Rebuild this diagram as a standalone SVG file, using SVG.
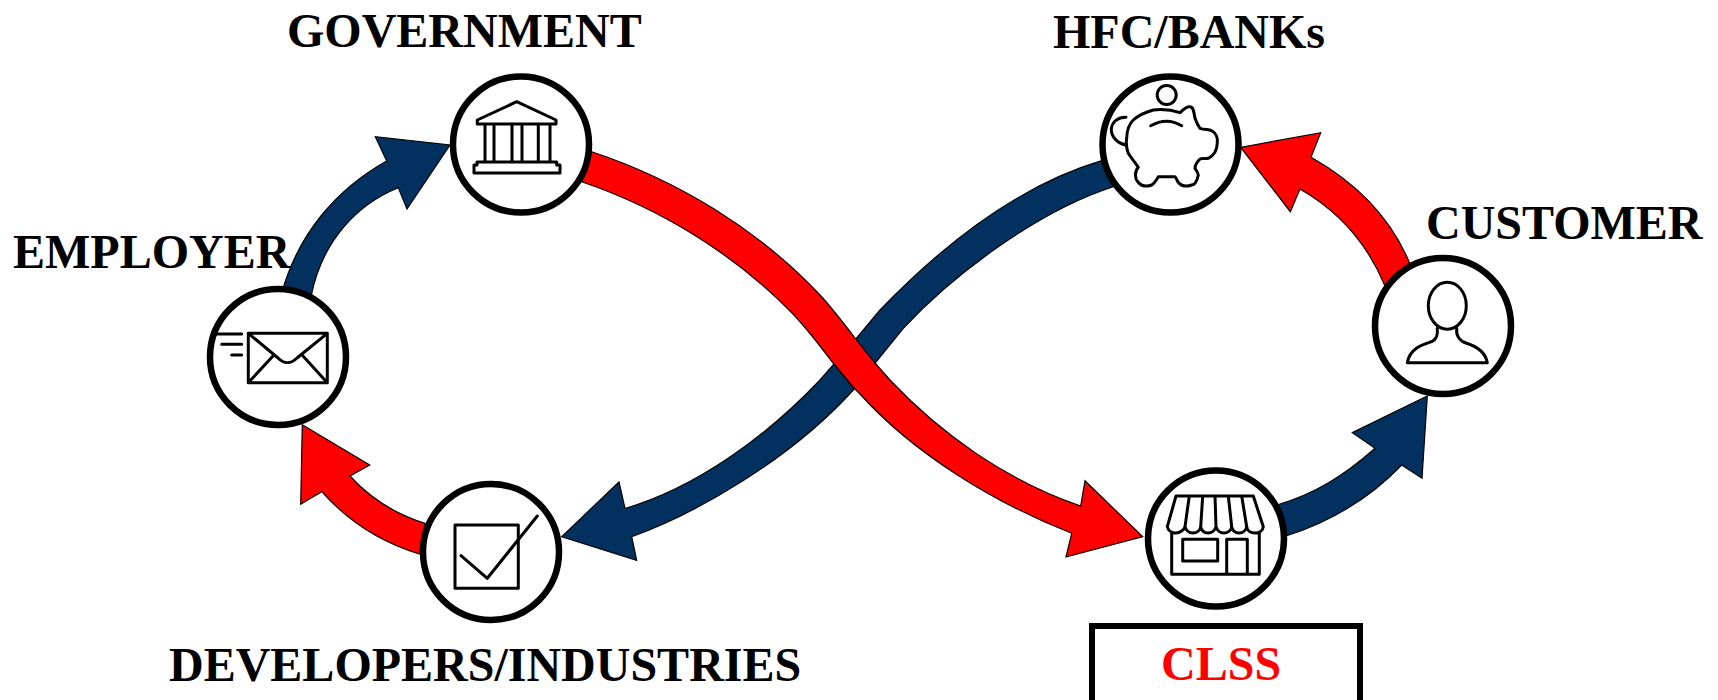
<svg xmlns="http://www.w3.org/2000/svg" width="1718" height="700" viewBox="0 0 1718 700">
<style>
.lbl{font-family:"Liberation Serif","Times New Roman",serif;font-weight:700;font-size:48px;fill:#000}
.ring{fill:#fff;stroke:#000;stroke-width:6.5}
.ico{fill:none;stroke:#000;stroke-width:3;stroke-linejoin:round;stroke-linecap:round}
.blue{fill:#03315f;stroke:#000;stroke-width:1.2;stroke-linejoin:miter}
.red{fill:#f00;stroke:#000;stroke-width:1.2;stroke-linejoin:miter}
</style>
<rect width="1718" height="700" fill="#fff"/>
<g id="connectors">
<path class="blue" d="M1101.7 160.7C1030 182 955 232 880 310L855 340L820 380C765 438 695 488 625 508.5L619 482L561.7 536.7L636.7 560.3L631.7 536.7C695 514 790 460 853.3 390L903.3 328.3C950 278 1035 212 1113.3 186.7Z"/>
<path class="red" d="M591.700 151.700C677 180 758 229 820 295C832 308 845 325 855 338L875 363L890 380C940 433 1005 480 1080.700 506L1085 480.700L1142.700 536.700L1066 557L1071.700 533.300C992 502 912 452 860 394L853 387L833 363C820 346 806 327 791 312C735 255 662 209 581.700 181.700Z"/>
<path class="blue" d="M282 292C298 235 335 190 386.700 161L375.300 136.700L450 145L407 209L398.300 187.700C358 204 322 240 311 297Z"/>
<path class="red" d="M1410 264C1392 220 1360 185 1311 157.300L1320.700 132.700L1240.700 147.300L1290.300 211.700L1300 189C1340 212 1368 245 1385 286Z"/>
<path class="blue" d="M1277 505C1315 494 1345 475 1375 448.300L1352.300 432.700L1427.300 396L1422 478.300L1401.700 465C1370 498 1330 522 1286 536Z"/>
<path class="red" d="M425 523.300C395 514 370 498 350 476L369.700 465L302.300 424.700L300.700 504.300L321.700 491.700C347 520 380 542 419.300 554Z"/>
</g>
<g id="government">
<circle class="ring" cx="521" cy="144.500" r="68"/>
<path class="ico" d="M516.700 101.700L556 120V124H477.300V120ZM485 124V162M494 124V162M512 124V162M522 124V162M538.300 124V162M550 124V162M477 162H556.700V165H560V173H474V165H477Z"/>
<text class="lbl" x="287" y="47">GOVERNMENT</text>
</g>
<g id="hfc-banks">
<circle class="ring" cx="1170.500" cy="144.500" r="68"/>
<circle class="ico" cx="1166.700" cy="95" r="9.500"/>
<path class="ico" d="M1180 112.700C1183 110 1186 106 1190 106.700C1194 107 1194 114 1195 118.300C1197 124 1199 127 1200 128.300C1205 130 1209 129 1211.700 130.700C1216 133 1218 138 1217.300 143C1217 150 1215 155 1208.300 158.300C1205 159 1202 158 1200 159C1197 162 1195 165 1195 168.300C1197 171 1198 173 1198.300 175C1197 181 1195 185 1191.700 185C1186 187 1181 186 1178 182C1177 180 1176 178 1175 176.700H1158.300C1157 179 1155 183 1151.700 185C1146 187 1141 186 1138 182C1135 179 1134 172 1138.300 167.300C1135 162 1131 158 1128.300 153.300C1126 147 1126 142 1126.700 138C1127 130 1129 124 1133.300 120C1140 114 1146 112 1153.300 110C1163 109 1172 110 1180 112.700Z"/>
<path class="ico" d="M1126 117.300C1118 117 1112 122 1111.300 129C1111 137 1118 144 1126.700 145M1150.700 125.700Q1166.700 116.700 1181.700 125.700"/>
<text class="lbl" x="1053" y="48">HFC/BANKs</text>
</g>
<g id="customer">
<circle class="ring" cx="1443" cy="326" r="68"/>
<ellipse class="ico" cx="1447.300" cy="305.700" rx="19" ry="23.500"/>
<path class="ico" d="M1437.300 328.300C1438 335 1437 339 1432 341.500C1425 344 1410 347 1407.300 362.700H1487.300C1485 350 1472 345 1466.700 343.300C1459 341 1456 335 1456.700 328.300"/>
<text class="lbl" x="1426" y="239">CUSTOMER</text>
</g>
<g id="clss">
<circle class="ring" cx="1216" cy="538.500" r="68"/>
<path class="ico" d="M1176 496H1253.300L1263.300 526.700C1263 530 1260 533 1255 533C1250 533 1247 530 1246.700 526.700C1246 530 1243 533 1239 533C1235 533 1232 530 1231.700 526.700C1231 530 1228 533 1224 533C1220 533 1217 530 1216 526.700C1215 530 1212 533 1208 533C1204 533 1201 530 1200.700 526.700C1200 530 1197 533 1193 533C1189 533 1186 530 1185 526.700C1184 530 1180 533 1176 533C1171 533 1168 530 1167.300 526.700ZM1189.300 496L1185 526.700M1202.700 496L1200.700 526.700M1215 496L1216 526.700M1228.300 496L1231.700 526.700M1241.700 496L1246.700 526.700M1171.700 533V574.300H1259.300V533M1182.700 539.300H1217.700V561H1182.700ZM1226.700 574.300V539.300H1247.300V574.300"/>
<rect x="1092" y="626" width="268" height="80" fill="#fff" stroke="#000" stroke-width="6"/>
<text class="lbl" x="1161" y="680" style="fill:#f00">CLSS</text>
</g>
<g id="developers">
<circle class="ring" cx="491" cy="552" r="68"/>
<rect class="ico" x="455" y="525" width="63.300" height="63.300"/>
<path class="ico" d="M461 555.700L487.300 578.300L537.300 516"/>
<text class="lbl" x="169" y="681">DEVELOPERS/INDUSTRIES</text>
</g>
<g id="employer">
<circle class="ring" cx="278" cy="357" r="68"/>
<path class="ico" d="M248.300 333.300H327.300V382.700H248.300ZM248.300 333.300L278 358C284 364 291 364 297 358L327.300 333.300M248.300 382.700L273 356M327.300 382.700L303 356M216.700 334H241.700M221.700 344.300H241.700M231.700 355H241.700"/>
<text class="lbl" x="13" y="268">EMPLOYER</text>
</g>
</svg>
